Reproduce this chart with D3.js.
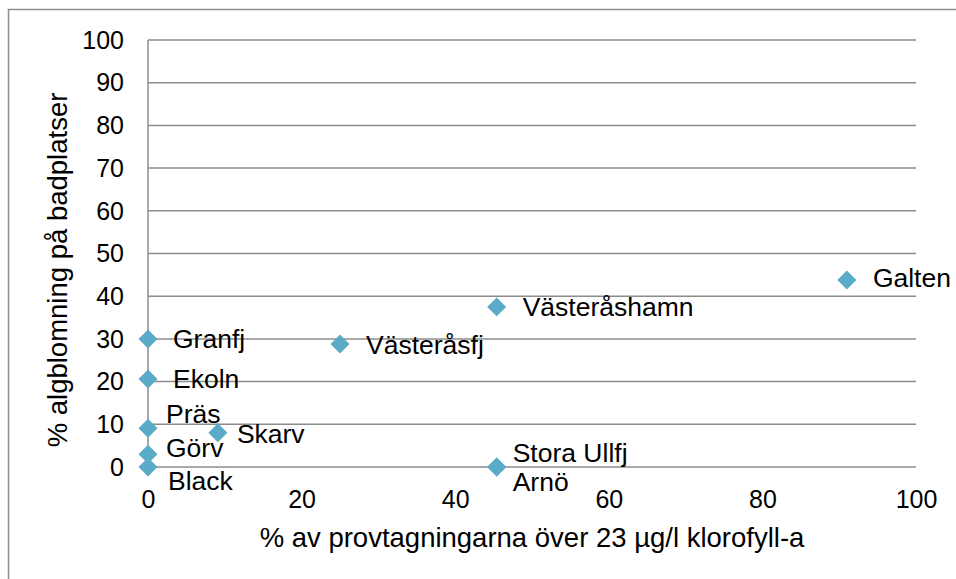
<!DOCTYPE html>
<html>
<head>
<meta charset="utf-8">
<script src="https://cdn.jsdelivr.net/npm/d3@7"></script>
<style>
  body { margin: 0; background: #fff; }
  text { font-family: "Liberation Sans", Arial, sans-serif; fill: #000; }
</style>
</head>
<body>
<div id="chart"></div>
<script>
// lakes, x = % of samples over 23 µg/l chlorophyll-a, y = % algal bloom at beaches
const lakes = ["Galten", "Västeråshamn", "Västeråsfj", "Granfj", "Ekoln", "Präs", "Skarv", "Görv", "Black", "Stora Ullfj", "Arnö"];
const xValues = [91, 45.4, 25, 0, 0, 0, 9.1, 0, 0, 45.4, 45.4];
const yValues = [43.8, 37.5, 28.8, 30, 20.6, 9.1, 8, 3, 0, 0, 0];
const xTicks = [0, 20, 40, 60, 80, 100];
const yTicks = [0, 10, 20, 30, 40, 50, 60, 70, 80, 90, 100];

// label placement relative to the marker (px, baseline)
const labelOffset = {
  "Galten": [26, 7], "Västeråshamn": [26, 9], "Västeråsfj": [26, 10],
  "Granfj": [25, 9], "Ekoln": [25, 9], "Präs": [18, -5], "Skarv": [19, 10],
  "Görv": [18, 3], "Black": [20, 23], "Stora Ullfj": [16, -5], "Arnö": [16, 24]
};

const width = 956, height = 579;
const margin = { left: 148, right: 40, top: 40, bottom: 112 };

const data = lakes.map((name, i) => ({ name: name, x: xValues[i], y: yValues[i] }));

const svg = d3.select("#chart").append("svg")
  .attr("width", width)
  .attr("height", height);

// outer chart border
svg.append("rect")
  .attr("x", 8.5).attr("y", 9.5)
  .attr("width", width + 10).attr("height", height + 10)
  .attr("fill", "none")
  .attr("stroke", "#8c8c8c")
  .attr("stroke-width", 1.5);

const x = d3.scaleLinear().domain([0, 100]).range([margin.left, width - margin.right]);
const y = d3.scaleLinear().domain([0, 100]).range([height - margin.bottom, margin.top]);

// horizontal gridlines
svg.append("g")
  .selectAll("line")
  .data(yTicks)
  .enter()
  .append("line")
  .attr("x1", x(0)).attr("x2", x(100))
  .attr("y1", d => y(d)).attr("y2", d => y(d))
  .attr("stroke", "#8c8c8c")
  .attr("stroke-width", 1.5);

// vertical axis line
svg.append("line")
  .attr("x1", x(0)).attr("x2", x(0))
  .attr("y1", y(0)).attr("y2", y(100))
  .attr("stroke", "#8c8c8c")
  .attr("stroke-width", 1.5);

let yAxis = d3.axisLeft(y).tickValues(yTicks).tickSize(0).tickPadding(24);
let yg = svg.append("g")
  .attr("transform", `translate(${x(0)}, 0)`)
  .call(yAxis);
yg.select(".domain").remove();
yg.selectAll("text").attr("font-size", 25).attr("fill", "#000").attr("dy", "0.33em")
  .style("font-family", "'Liberation Sans', Arial, sans-serif");

let xAxis = d3.axisBottom(x).tickValues(xTicks).tickSize(0).tickPadding(23);
let xg = svg.append("g")
  .attr("transform", `translate(0, ${y(0)})`)
  .call(xAxis);
xg.select(".domain").remove();
xg.selectAll("text").attr("font-size", 25).attr("fill", "#000").attr("dy", "0.71em")
  .style("font-family", "'Liberation Sans', Arial, sans-serif");

// axis titles
svg.append("text")
  .attr("x", (x(0) + x(100)) / 2)
  .attr("y", 547)
  .attr("text-anchor", "middle")
  .attr("font-size", 27.5)
  .text("% av provtagningarna över 23 µg/l klorofyll-a");

svg.append("text")
  .attr("transform", `translate(67, 270) rotate(-90)`)
  .attr("text-anchor", "middle")
  .attr("font-size", 27.5)
  .text("% algblomning på badplatser");

// markers
const diamond = d3.symbol().type(d3.symbolDiamond2).size(230);
svg.append("g")
  .selectAll("path")
  .data(data)
  .enter()
  .append("path")
  .attr("transform", d => `translate(${x(d.x)}, ${y(d.y)})`)
  .attr("d", diamond)
  .attr("fill", "#5aabc7");

// data labels
svg.append("g")
  .selectAll("text")
  .data(data)
  .enter()
  .append("text")
  .attr("x", d => x(d.x) + labelOffset[d.name][0])
  .attr("y", d => y(d.y) + labelOffset[d.name][1])
  .attr("font-size", 26.5)
  .text(d => d.name);
</script>
</body>
</html>
